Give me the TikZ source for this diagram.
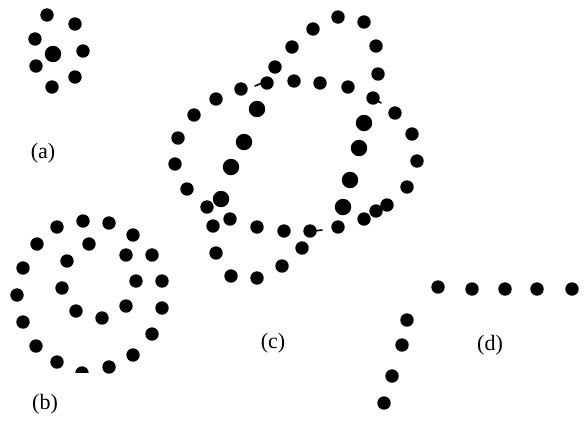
\documentclass[tikz,border=0pt]{standalone}
\usepackage{fontspec}
\setmainfont{Liberation Serif}
\begin{document}
\begin{tikzpicture}[x=1pt,y=-1pt,
  lbl/.style={font=\fontsize{22}{26}\selectfont, inner sep=0pt},
  tail/.style={line width=1.6pt, line cap=round}]
\useasboundingbox[fill=white] (0,0) rectangle (585,421);
% normal dots
\foreach \p in {(47,15),(75,24),(35,39),(83,51),(36,66),(75,77),(52,87),
  (57,227),(83,221),(109,223),(133,235),(37,244),(89,244),(67,261),(126,255),(152,255),
  (23,268),(62,288),(136,281),(162,281),(17,295),(76,311),(102,318),(126,306),(162,308),
  (23,322),(152,334),(36,346),(133,355),(57,362),(109,367),
  (338,17),(364,22),(313,29),(292,47),(376,46),(275,67),(378,74),(267,83),(294,81),
  (320,83),(348,87),(241,89),(216,99),(373,98),(194,115),(395,113),(412,134),(178,138),
  (417,161),(175,164),(187,189),(407,187),(207,207),(387,205),(376,211),(364,219),
  (230,219),(213,226),(257,227),(284,231),(310,231),(338,227),(302,248),(216,253),
  (282,266),(231,276),(257,278),
  (438,287),(472,289),(505,289),(537,289),(572,289),(407,320),(402,345),(392,376),(384,403)}
  \fill \p circle[radius=6.7pt];
% larger dots
\foreach \p in {(53,54),(257,109),(364,123),(244,142),(359,148),(231,167),(350,180),(221,199),(343,207)}
  \fill \p circle[radius=8.2pt];
% half dot
\begin{scope}
  \clip (70,360) rectangle (94,372.5);
  \fill (82,373) circle[radius=6.7pt];
\end{scope}
% small tails
\draw[tail] (255,86) -- (262,83);
\draw[tail] (375,99) -- (381,103);
\draw[tail] (314,231) -- (322,230);
% labels
\node[lbl] (la) at (43,153) {(a)};
\node[lbl] (lb) at (45,404) {(b)};
\node[lbl] (lc) at (273,343) {(c)};
\node[lbl] (ld) at (490,345) {(d)};
\end{tikzpicture}
\end{document}
